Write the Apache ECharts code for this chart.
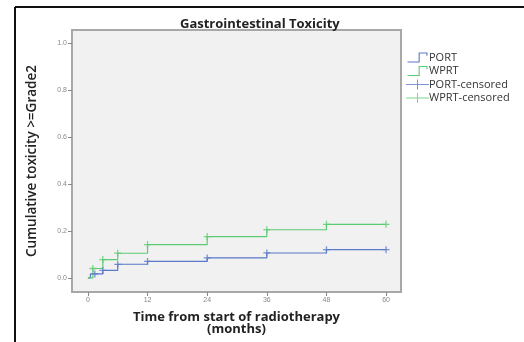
<!DOCTYPE html>
<html><head><meta charset="utf-8">
<script src="https://cdn.jsdelivr.net/npm/echarts@6/dist/echarts.min.js"></script>
<style>html,body{margin:0;padding:0;background:#fff}#c{width:524px;height:342px}</style>
</head><body><div id="c"></div>
<script>
var seriesNames = ['PORT', 'WPRT', 'PORT-censored', 'WPRT-censored'];
var portTimes = [0, 0.5, 3, 6, 12, 24, 36, 48, 60];
var portValues = [0, 0.017, 0.032, 0.058, 0.07, 0.085, 0.106, 0.12, 0.12];
var wprtTimes = [0, 1, 3, 6, 12, 24, 36, 48, 60];
var wprtValues = [0, 0.04, 0.078, 0.105, 0.142, 0.176, 0.205, 0.228, 0.228];
var portCensTimes = [1.4, 3, 6, 12, 24, 36, 48, 60];
var portCensValues = [0.017, 0.032, 0.058, 0.07, 0.085, 0.106, 0.12, 0.12];
var wprtCensTimes = [1, 3, 6, 12, 24, 36, 48, 60];
var wprtCensValues = [0.04, 0.078, 0.105, 0.142, 0.176, 0.205, 0.228, 0.228];
var xTicks = [0, 12, 24, 36, 48, 60];
var yTicks = [0, 0.2, 0.4, 0.6, 0.8, 1.0];

function zip(a, b) { return a.map(function (v, i) { return [v, b[i]]; }); }
var blue = '#5b78c9', green = '#5ccc72';
var plus = 'path://M4.1,0h1.8v4.1h4.1v1.8h-4.1v4.1h-1.8v-4.1h-4.1v-1.8h4.1z';
var stepIcon = 'path://M0,9h10v-8h8v3h-1v-2h-6v8h-11z';
var plusIcon = 'path://M0,4.5h23v1h-23zM11,0h1v10h-1z';

var chart = echarts.init(document.getElementById('c'), null, {renderer: 'canvas'});
chart.setOption({
  animation: false,
  backgroundColor: '#fff',
  title: {
    text: 'Gastrointestinal Toxicity', left: 175, top: 13,
    textStyle: {fontFamily: 'Open Sans', fontWeight: 'bold', fontSize: 13, color: '#222'}
  },
  grid: {left: 72, top: 30, right: 123, bottom: 50, show: true, backgroundColor: '#f1f1f1', borderColor: '#a8a8a8', borderWidth: 2},
  legend: {
    left: 401, top: 47, orient: 'vertical', itemWidth: 23, itemHeight: 10, itemGap: 2.5,
    textStyle: {fontFamily: 'Open Sans', fontSize: 11, fontWeight: 500, color: '#333', padding: [0, 0, 0, -5]},
    data: [
      {name: 'PORT', icon: stepIcon},
      {name: 'WPRT', icon: stepIcon},
      {name: 'PORT-censored', icon: plusIcon},
      {name: 'WPRT-censored', icon: plusIcon}
    ]
  },
  xAxis: {
    type: 'value', min: -3.2, max: 63,
    name: 'Time from start of radiotherapy\n(months)', nameLocation: 'middle', nameGap: 19,
    nameTextStyle: {fontFamily: 'Open Sans', fontWeight: 'bold', fontSize: 13, color: '#222', lineHeight: 12},
    axisLine: {show: false, onZero: false}, splitLine: {show: false},
    axisTick: {show: true, length: 4, lineStyle: {color: '#888'}, customValues: xTicks},
    axisLabel: {fontSize: 7, color: '#888', margin: 5, customValues: xTicks, formatter: function (v) { return String(v); }}
  },
  yAxis: {
    type: 'value', min: -0.06, max: 1.055,
    name: 'Cumulative toxicity >=Grade2', nameLocation: 'middle', nameGap: 33,
    nameTextStyle: {fontFamily: 'Open Sans', fontWeight: 600, fontSize: 13.5, color: '#222'},
    axisLine: {show: false, onZero: false}, splitLine: {show: false},
    axisTick: {show: true, length: 4, lineStyle: {color: '#888'}, customValues: yTicks},
    axisLabel: {fontSize: 7, color: '#888', margin: 5, customValues: yTicks, formatter: function (v) { return v.toFixed(1); }}
  },
  series: [
    {name: 'PORT', type: 'line', step: 'end', data: zip(portTimes, portValues), showSymbol: false, symbol: 'none', color: blue, lineStyle: {width: 1.2, color: blue}, z: 3},
    {name: 'WPRT', type: 'line', step: 'end', data: zip(wprtTimes, wprtValues), showSymbol: false, symbol: 'none', color: green, lineStyle: {width: 1.2, color: green}, z: 3},
    {name: 'PORT-censored', type: 'scatter', data: zip(portCensTimes, portCensValues), symbol: plus, symbolSize: 7, color: blue, itemStyle: {color: blue}, z: 4},
    {name: 'WPRT-censored', type: 'scatter', data: zip(wprtCensTimes, wprtCensValues), symbol: plus, symbolSize: 7, color: green, itemStyle: {color: green}, z: 4}
  ],
  graphic: [
    {type: 'line', shape: {x1: 15, y1: 7, x2: 15, y2: 342}, style: {stroke: '#111', lineWidth: 2}},
    {type: 'line', shape: {x1: 15, y1: 7, x2: 524, y2: 7}, style: {stroke: '#111', lineWidth: 2}}
  ]
});
</script></body></html>
